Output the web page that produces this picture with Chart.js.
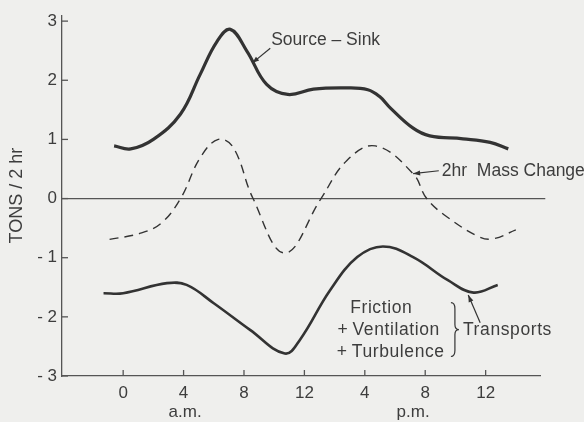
<!DOCTYPE html>
<html>
<head>
<meta charset="utf-8">
<script src="https://cdn.jsdelivr.net/npm/chart.js@4"></script>
<style>
html,body{margin:0;padding:0;background:#efefed;}
#wrap{width:584px;height:422px;position:relative;}
</style>
</head>
<body>
<div id="wrap"><canvas id="c" width="584" height="422"></canvas></div>
<script>
// Hours (0 = midnight a.m., 12 = noon, 24 = midnight p.m.)
const xTicks = [0, 4, 8, 12, 16, 20, 24];
const xTickLabels = ['0', '4', '8', '12', '4', '8', '12'];
const yTicks = [-3, -2, -1, 0, 1, 2, 3];

const sourceSinkHours = [-0.6, 0.5, 2, 3.8, 5.1, 6.2, 7.1, 8.2, 9.5, 10.9, 12.6, 14.8, 16.2, 17.0, 17.7, 19.2, 20.3, 22.5, 24.3, 25.5];
const sourceSinkValues = [0.89, 0.84, 1.0, 1.43, 2.1, 2.65, 2.86, 2.49, 1.93, 1.76, 1.85, 1.87, 1.84, 1.72, 1.53, 1.19, 1.06, 1.01, 0.95, 0.84];

const massChangeHours = [-0.9, 1.1, 2.5, 3.8, 5.1, 6.3, 7.3, 8.6, 10.7, 13.1, 14.8, 16.7, 19.2, 20.1, 21.5, 23.6, 24.5, 26];
const massChangeValues = [-0.69, -0.59, -0.42, 0, 0.69, 1.0, 0.86, 0, -0.92, 0, 0.64, 0.89, 0.42, 0, -0.32, -0.65, -0.68, -0.53];

const transportHours = [-1.3, 0, 2.9, 4.2, 6, 8.4, 10.7, 11.7, 13.7, 15.5, 17.2, 19.2, 21.5, 23.2, 24.8];
const transportValues = [-1.6, -1.6, -1.43, -1.46, -1.77, -2.22, -2.62, -2.39, -1.55, -0.99, -0.81, -0.99, -1.38, -1.59, -1.46];

const zeroLineHours = [-4.05, 27.95];
const zeroLineValues = [0, 0];

function pts(xs, ys) { return xs.map((x, i) => ({x: x, y: ys[i]})); }

const INK = '#333333';
const TXT = '#3d3d3d';
const FONT = "'Liberation Sans', Arial, sans-serif";

const annotations = {
  id: 'annotations',
  afterDatasetsDraw(chart) {
    const ctx = chart.ctx;
    const xs = chart.scales.x, ys = chart.scales.y;
    const X = v => xs.getPixelForValue(v), Y = v => ys.getPixelForValue(v);
    ctx.save();
    // inward ticks
    ctx.strokeStyle = '#555';
    ctx.lineWidth = 1.3;
    const ax = chart.chartArea.left, ay = chart.chartArea.bottom;
    yTicks.forEach(v => { ctx.beginPath(); ctx.moveTo(ax, Y(v)); ctx.lineTo(ax + 6, Y(v)); ctx.stroke(); });
    xTicks.forEach(v => { ctx.beginPath(); ctx.moveTo(X(v), ay); ctx.lineTo(X(v), ay - 6); ctx.stroke(); });

    // arrows
    function arrow(x1, y1, x2, y2) {
      const px1 = X(x1), py1 = Y(y1), px2 = X(x2), py2 = Y(y2);
      ctx.strokeStyle = INK; ctx.fillStyle = INK; ctx.lineWidth = 1.2;
      ctx.beginPath(); ctx.moveTo(px1, py1); ctx.lineTo(px2, py2); ctx.stroke();
      const a = Math.atan2(py2 - py1, px2 - px1);
      const L = 7, W = 2.5;
      ctx.beginPath();
      ctx.moveTo(px2, py2);
      ctx.lineTo(px2 - L * Math.cos(a) + W * Math.sin(a), py2 - L * Math.sin(a) - W * Math.cos(a));
      ctx.lineTo(px2 - L * Math.cos(a) - W * Math.sin(a), py2 - L * Math.sin(a) + W * Math.cos(a));
      ctx.closePath(); ctx.fill();
    }
    arrow(9.74, 2.54, 8.54, 2.29);
    arrow(20.9, 0.47, 19.2, 0.42);
    arrow(23.64, -2.10, 22.85, -1.63);

    ctx.fillStyle = TXT;
    ctx.font = '17.5px ' + FONT;
    ctx.textBaseline = 'middle';
    ctx.textAlign = 'left';
    ctx.fillText('Source \u2013 Sink', X(9.8), Y(2.68));
    ctx.fillText('2hr  Mass Change', X(21.1), Y(0.47));
    try { ctx.letterSpacing = '0.6px'; } catch (e) {}
    ctx.fillText('Friction', X(15.03), Y(-1.85));
    ctx.fillText('+\u2009Ventilation', X(14.2), Y(-2.22));
    ctx.fillText('+\u2009Turbulence', X(14.15), Y(-2.59));
    ctx.fillText('Transports', X(22.5), Y(-2.22));
    try { ctx.letterSpacing = '0px'; } catch (e) {}

    // brace
    const bx = X(21.9), bt = Y(-1.76), bb = Y(-2.67), bm = (bt + bb) / 2;
    ctx.strokeStyle = INK; ctx.lineWidth = 1.2;
    ctx.beginPath();
    ctx.moveTo(bx - 3, bt);
    ctx.quadraticCurveTo(bx + 1, bt, bx + 1, bt + 6);
    ctx.lineTo(bx + 1, bm - 5);
    ctx.quadraticCurveTo(bx + 1, bm, bx + 5, bm);
    ctx.quadraticCurveTo(bx + 1, bm, bx + 1, bm + 5);
    ctx.lineTo(bx + 1, bb - 6);
    ctx.quadraticCurveTo(bx + 1, bb, bx - 3, bb);
    ctx.stroke();

    // a.m. / p.m.
    ctx.textAlign = 'center';
    ctx.font = '17px ' + FONT;
    ctx.fillText('a.m.', X(4.1), ay + 36);
    ctx.fillText('p.m.', X(19.2), ay + 36);
    ctx.restore();
  }
};

new Chart(document.getElementById('c'), {
  type: 'line',
  data: {
    datasets: [
      { label: 'Source - Sink', data: pts(sourceSinkHours, sourceSinkValues), borderColor: INK, borderWidth: 3.2, pointRadius: 0, tension: 0.4, fill: false },
      { label: '2 hr Mass Change', data: pts(massChangeHours, massChangeValues), borderColor: INK, borderWidth: 1.4, borderDash: [9, 6], pointRadius: 0, tension: 0.4, fill: false },
      { label: 'Transports', data: pts(transportHours, transportValues), borderColor: INK, borderWidth: 2.6, pointRadius: 0, tension: 0.4, fill: false },
      { label: 'zero', data: pts(zeroLineHours, zeroLineValues), borderColor: '#555', borderWidth: 1.2, pointRadius: 0, clip: false, fill: false }
    ]
  },
  options: {
    responsive: false,
    animation: false,
    events: [],
    layout: { padding: { left: 0, top: 13, right: 44, bottom: 0 } },
    plugins: { legend: { display: false }, tooltip: { enabled: false } },
    scales: {
      x: {
        type: 'linear', min: -4.05, max: 27.6,
        afterFit(s) { s.height = 46; },
        afterBuildTicks(s) { s.ticks = xTicks.map(v => ({value: v})); },
        grid: { display: false, drawTicks: false },
        border: { display: true, color: '#555', width: 1.3 },
        ticks: {
          padding: 7, color: TXT, font: { family: FONT, size: 17 },
          maxRotation: 0, autoSkip: false,
          callback: (v) => xTickLabels[xTicks.indexOf(v)]
        }
      },
      y: {
        type: 'linear', min: -3, max: 3.1,
        afterFit(s) { s.width = 62; },
        afterBuildTicks(s) { s.ticks = yTicks.map(v => ({value: v})); },
        grid: { display: false, drawTicks: false },
        border: { display: true, color: '#555', width: 1.3 },
        title: { display: true, text: 'TONS / 2 hr', color: TXT, font: { family: FONT, size: 18 }, padding: { top: 6, bottom: 0 } },
        ticks: {
          padding: 5, color: TXT, font: { family: FONT, size: 17 },
          callback: (v) => v < 0 ? '- ' + Math.abs(v) : String(v)
        }
      }
    }
  },
  plugins: [annotations]
});
</script>
</body>
</html>
